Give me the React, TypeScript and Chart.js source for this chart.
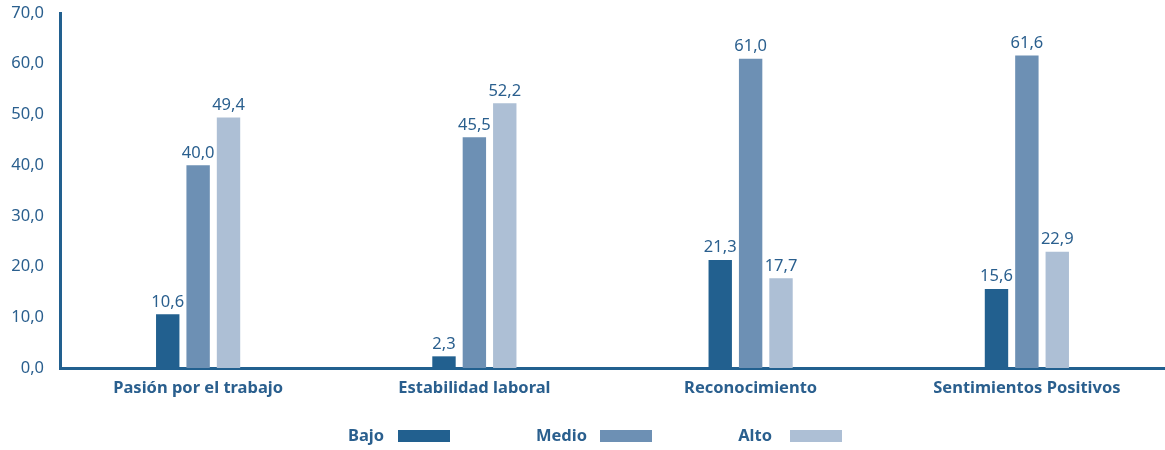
import React, { useEffect, useRef } from "react";
import { Chart, registerables } from "chart.js";
Chart.register(...registerables);

const categories = ["Pasión por el trabajo", "Estabilidad laboral", "Reconocimiento", "Sentimientos Positivos"];
const bajo = [10.6, 2.3, 21.3, 15.6];
const medio = [40.0, 45.5, 61.0, 61.6];
const alto = [49.4, 52.2, 17.7, 22.9];
const seriesNames = ["Bajo", "Medio", "Alto"];
const colors = ["#22608f", "#6d90b4", "#adbfd5"];
const textColor = "#2a5f8e";
const FONT = "'Noto Sans', sans-serif";

const fmt = (v: number) => v.toFixed(1).replace(".", ",");

const labelPlugin = {
  id: "valueLabels",
  afterDatasetsDraw(chart: any) {
    const ctx = chart.ctx;
    ctx.save();
    ctx.font = `16.5px ${FONT}`;
    ctx.fillStyle = textColor;
    ctx.textAlign = "center";
    ctx.textBaseline = "bottom";
    chart.data.datasets.forEach((ds: any, i: number) => {
      const meta = chart.getDatasetMeta(i);
      meta.data.forEach((bar: any, j: number) => {
        ctx.fillText(fmt(ds.data[j]), bar.x, bar.y - 4);
      });
    });
    ctx.restore();
  },
};

const legendPlugin = {
  id: "customLegend",
  afterDraw(chart: any) {
    const ctx = chart.ctx;
    ctx.save();
    ctx.font = `bold 16.5px ${FONT}`;
    ctx.textBaseline = "middle";
    ctx.textAlign = "right";
    const textRight = [384, 587, 772];
    const boxLeft = [398, 600, 790];
    const y = 436;
    seriesNames.forEach((n, i) => {
      ctx.fillStyle = textColor;
      ctx.fillText(n, textRight[i], y);
      ctx.fillStyle = colors[i];
      ctx.fillRect(boxLeft[i], y - 6, 52, 12);
    });
    ctx.restore();
  },
};

export default function App() {
  const ref = useRef<HTMLCanvasElement>(null);
  useEffect(() => {
    if (!ref.current) return;
    const chart = new Chart(ref.current, {
      type: "bar",
      data: {
        labels: categories,
        datasets: [bajo, medio, alto].map((d, i) => ({
          label: seriesNames[i],
          data: d,
          backgroundColor: colors[i],
          barPercentage: 0.77,
          categoryPercentage: 0.33,
        })),
      },
      options: {
        animation: false,
        responsive: false,
        maintainAspectRatio: false,
        layout: { padding: { top: 13, right: 0, left: 0, bottom: 0 } },
        plugins: { legend: { display: false }, tooltip: { enabled: false } },
        scales: {
          x: {
            grid: { display: false, drawTicks: false },
            border: { display: true, color: "#22608f", width: 3 },
            ticks: {
              color: textColor,
              font: { family: FONT, size: 16.5, weight: "bold" },
              padding: 10,
              maxRotation: 0,
            },
            afterFit(scale: any) {
              scale.height = 82;
              scale.paddingLeft = 0;
              scale.paddingRight = 0;
            },
          },
          y: {
            min: 0,
            max: 70,
            grid: { display: false, drawTicks: false },
            border: { display: true, color: "#22608f", width: 3 },
            ticks: {
              stepSize: 10,
              color: textColor,
              font: { family: FONT, size: 16.5 },
              padding: 16,
              callback: (v: any) => fmt(Number(v)),
            },
            afterFit(scale: any) {
              scale.width = 60;
              scale.paddingTop = 0;
              scale.paddingBottom = 0;
            },
          },
        },
      },
      plugins: [labelPlugin, legendPlugin],
    });
    return () => chart.destroy();
  }, []);
  return (
    <div style={{ position: "fixed", left: 0, top: 0, width: 1165, height: 450, background: "#fff" }}>
      <canvas ref={ref} width={1165} height={450} style={{ width: 1165, height: 450 }} />
    </div>
  );
}
